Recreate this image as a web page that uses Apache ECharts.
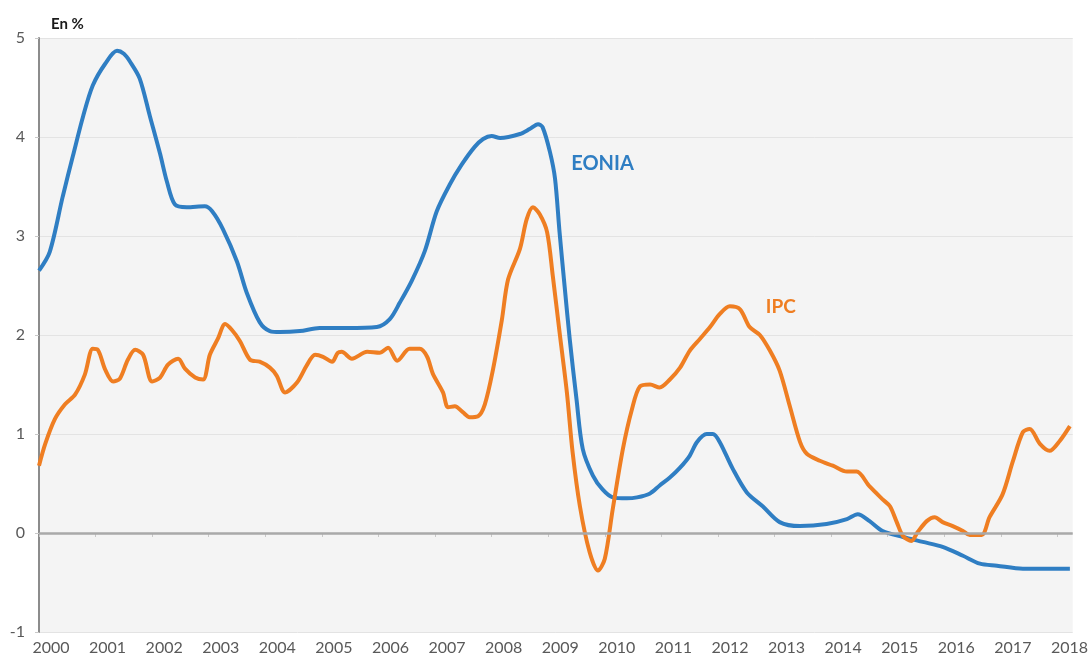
<!DOCTYPE html>
<html>
<head>
<meta charset="utf-8">
<script src="https://cdn.jsdelivr.net/npm/echarts@6/dist/echarts.min.js"></script>
<style>
html,body{margin:0;padding:0;background:#fff;}
#chart{width:1091px;height:661px;}
</style>
</head>
<body>
<div id="chart"></div>
<script>
// Tick labels
const yearTicks = [2000,2001,2002,2003,2004,2005,2006,2007,2008,2009,2010,2011,2012,2013,2014,2015,2016,2017,2018];

// EONIA (decimal year, %)
const eoniaT = [2000.00,2000.19,2000.42,2000.60,2000.78,2000.95,2001.17,2001.38,2001.50,2001.61,2001.78,2001.96,2002.14,2002.26,2002.40,2002.61,2002.93,2003.06,2003.25,2003.50,2003.67,2003.90,2004.08,2004.26,2004.61,2004.96,2005.44,2005.97,2006.20,2006.38,2006.59,2006.82,2007.03,2007.26,2007.47,2007.70,2007.85,2008.00,2008.15,2008.50,2008.67,2008.82,2008.90,2009.03,2009.12,2009.20,2009.29,2009.38,2009.50,2009.61,2009.79,2009.96,2010.14,2010.39,2010.57,2010.80,2010.97,2011.15,2011.33,2011.50,2011.63,2011.80,2011.91,2012.03,2012.26,2012.51,2012.79,2013.09,2013.45,2013.92,2014.28,2014.47,2014.68,2014.91,2015.27,2015.62,2015.97,2016.33,2016.63,2016.93,2017.39,2018.22];
const eoniaV = [2.65,2.84,3.40,3.81,4.21,4.52,4.74,4.87,4.84,4.76,4.59,4.21,3.83,3.55,3.32,3.29,3.30,3.25,3.07,2.74,2.43,2.13,2.04,2.03,2.04,2.07,2.07,2.08,2.16,2.33,2.55,2.85,3.25,3.52,3.72,3.90,3.98,4.01,3.99,4.03,4.08,4.13,4.10,3.85,3.58,3.04,2.49,1.96,1.35,0.85,0.58,0.44,0.36,0.35,0.36,0.40,0.48,0.56,0.66,0.78,0.92,1.00,1.00,0.92,0.65,0.41,0.27,0.11,0.07,0.09,0.14,0.19,0.12,0.02,-0.04,-0.09,-0.14,-0.23,-0.31,-0.33,-0.36,-0.36];

// IPC (decimal year, %)
const ipcT = [2000.00,2000.11,2000.28,2000.46,2000.64,2000.81,2000.95,2001.04,2001.17,2001.31,2001.43,2001.57,2001.70,2001.84,2002.00,2002.14,2002.28,2002.46,2002.58,2002.76,2002.90,2003.02,2003.16,2003.29,2003.41,2003.55,2003.73,2003.90,2004.08,2004.20,2004.35,2004.56,2004.73,2004.88,2005.02,2005.18,2005.28,2005.35,2005.53,2005.80,2006.02,2006.17,2006.33,2006.55,2006.73,2006.86,2006.96,2007.14,2007.23,2007.35,2007.49,2007.61,2007.76,2007.88,2008.02,2008.18,2008.29,2008.50,2008.62,2008.73,2008.85,2008.98,2009.08,2009.20,2009.33,2009.43,2009.56,2009.73,2009.88,2010.00,2010.14,2010.32,2010.48,2010.62,2010.80,2010.97,2011.15,2011.33,2011.50,2011.68,2011.86,2012.03,2012.21,2012.39,2012.56,2012.74,2012.92,2013.09,2013.27,2013.45,2013.57,2013.80,2014.03,2014.28,2014.45,2014.68,2014.91,2015.04,2015.16,2015.27,2015.42,2015.53,2015.69,2015.83,2015.97,2016.15,2016.33,2016.45,2016.66,2016.80,2017.03,2017.21,2017.39,2017.51,2017.69,2017.86,2018.04,2018.22];
const ipcV = [0.68,0.90,1.15,1.30,1.40,1.60,1.86,1.85,1.65,1.53,1.56,1.75,1.85,1.80,1.53,1.57,1.70,1.76,1.66,1.57,1.55,1.80,1.96,2.11,2.05,1.94,1.75,1.73,1.67,1.59,1.42,1.52,1.69,1.80,1.78,1.73,1.82,1.83,1.76,1.83,1.82,1.87,1.74,1.86,1.86,1.78,1.61,1.42,1.27,1.28,1.22,1.17,1.18,1.30,1.64,2.15,2.56,2.87,3.17,3.29,3.22,3.04,2.60,2.03,1.42,0.82,0.27,-0.19,-0.38,-0.26,0.24,0.85,1.25,1.48,1.50,1.47,1.55,1.67,1.84,1.96,2.08,2.21,2.29,2.26,2.08,2.00,1.84,1.64,1.28,0.92,0.80,0.73,0.68,0.62,0.62,0.47,0.34,0.27,0.11,-0.03,-0.08,0.01,0.12,0.16,0.11,0.07,0.02,-0.02,-0.02,0.16,0.39,0.72,1.02,1.05,0.90,0.83,0.93,1.08];

const zip = (t, v) => t.map((x, i) => [x, v[i]]);
const FONT = 'Lato, "Open Sans", sans-serif';
const BLUE = '#2f7ec3';
const ORANGE = '#ef7e22';

const chart = echarts.init(document.getElementById('chart'), null, {renderer: 'canvas'});
chart.setOption({
  animation: false,
  backgroundColor: '#ffffff',
  title: {
    text: 'En %', left: 46, top: 12,
    textStyle: {fontSize: 15, fontWeight: 'bold', color: '#1a1a1a', fontFamily: FONT}
  },
  grid: {left: 39, right: 18, top: 38, bottom: 29, show: true, backgroundColor: '#f4f4f4', borderWidth: 0},
  xAxis: {
    type: 'value', min: 2000, max: 2018.27, interval: 1,
    axisLine: {show: false},
    axisTick: {show: true, customValues: yearTicks, length: 4, lineStyle: {color: '#c8c8c8'}},
    axisLabel: {
      customValues: yearTicks, color: '#595959', fontSize: 16, fontFamily: FONT,
      margin: 8, padding: [0, 0, 0, 24], formatter: v => String(Math.round(v))
    },
    splitLine: {show: false}
  },
  yAxis: {
    type: 'value', min: -1, max: 5, interval: 1,
    axisLine: {show: true, lineStyle: {color: '#8c8c8c', width: 2}},
    axisTick: {show: true, length: 4, lineStyle: {color: '#c8c8c8'}},
    axisLabel: {color: '#595959', fontSize: 16, fontFamily: FONT, margin: 14},
    splitLine: {show: true, lineStyle: {color: '#e3e3e3', width: 1}}
  },
  series: [
    {
      name: 'zero', type: 'line', data: [], z: 1, silent: true,
      markLine: {
        silent: true, symbol: 'none', label: {show: false},
        lineStyle: {color: '#a9a9a9', width: 2.5, type: 'solid'},
        data: [{yAxis: 0}]
      }
    },
    {
      name: 'EONIA', type: 'line', data: zip(eoniaT, eoniaV), z: 3,
      showSymbol: false, smooth: 0.3,
      lineStyle: {color: BLUE, width: 4}, itemStyle: {color: BLUE},
      markPoint: {
        symbol: 'circle', symbolSize: 0, silent: true,
        label: {show: true, position: 'inside', formatter: 'EONIA', color: BLUE, fontSize: 20, fontWeight: 'bold', fontFamily: FONT},
        data: [{coord: [2009.96, 3.73]}]
      }
    },
    {
      name: 'IPC', type: 'line', data: zip(ipcT, ipcV), z: 4,
      showSymbol: false, smooth: 0.3,
      lineStyle: {color: ORANGE, width: 4}, itemStyle: {color: ORANGE},
      markPoint: {
        symbol: 'circle', symbolSize: 0, silent: true,
        label: {show: true, position: 'inside', formatter: 'IPC', color: ORANGE, fontSize: 19, fontWeight: 'bold', fontFamily: FONT},
        data: [{coord: [2013.11, 2.28]}]
      }
    }
  ]
});
</script>
</body>
</html>
